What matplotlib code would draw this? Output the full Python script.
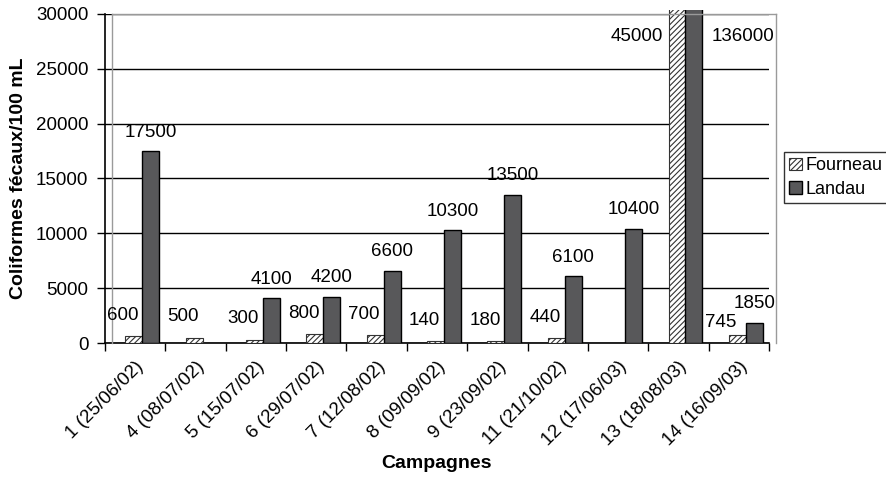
import numpy as np
import matplotlib
matplotlib.use("Agg")
import matplotlib.pyplot as plt
from matplotlib.transforms import Bbox, TransformedBbox

plt.rcParams['font.family'] = ['Liberation Sans', 'DejaVu Sans']
plt.rcParams['hatch.color'] = '#555555'
plt.rcParams['hatch.linewidth'] = 0.8

# --- Data ---
campagnes = ["1 (25/06/02)", "4 (08/07/02)", "5 (15/07/02)", "6 (29/07/02)",
             "7 (12/08/02)", "8 (09/09/02)", "9 (23/09/02)", "11 (21/10/02)",
             "12 (17/06/03)", "13 (18/08/03)", "14 (16/09/03)"]
fourneau = [600, 500, 300, 800, 700, 140, 180, 440, np.nan, 45000, 745]
landau = [17500, np.nan, 4100, 4200, 6600, 10300, 13500, 6100, 10400, 136000, 1850]
y_ticks = [0, 5000, 10000, 15000, 20000, 25000, 30000]
YMAX = 30000

FS = 13.5   # regular text
FSB = 14    # bold axis titles

W, H = 887, 480
fig = plt.figure(figsize=(W / 100, H / 100), dpi=100)

def rect(x0, y0, x1, y1):
    # pixel box (top-left origin) -> figure fraction
    return [x0 / W, 1 - y1 / H, (x1 - x0) / W, (y1 - y0) / H]

# axis / gridline layer (shifted a few pixels left of the plot area, like the original)
ax = fig.add_axes(rect(105, 14, 769, 343))
ax.set_zorder(0)
n = len(campagnes)
x = np.arange(n)
ax.set_xlim(-0.5, n - 0.5)
ax.set_ylim(0, YMAX)
ax.set_yticks(y_ticks)
ax.set_yticklabels([str(v) for v in y_ticks], fontsize=FS)
ax.yaxis.grid(True, color='black', linewidth=1)
ax.set_axisbelow(True)
ax.set_xticks(np.arange(-0.5, n, 1.0))
ax.set_xticklabels([])
ax.set_xticks(x, minor=True)
ax.set_xticklabels(campagnes, minor=True, rotation=45, ha='right', va='top',
                   rotation_mode='anchor', fontsize=FS)
ax.tick_params(axis='x', which='major', length=6, direction='out', width=1)
ax.tick_params(axis='x', which='minor', length=0, pad=11)
ax.tick_params(axis='y', length=6, width=1, pad=6)
for s in ['top', 'right']:
    ax.spines[s].set_visible(False)
for s in ['left', 'bottom']:
    ax.spines[s].set_color('black')
    ax.spines[s].set_linewidth(1.2)
ax.set_ylabel("Coliformes fécaux/100 mL", fontsize=FSB, fontweight='bold', labelpad=6)
ax.set_xlabel("Campagnes", fontsize=FSB, fontweight='bold', labelpad=4)

# bar layer (plot area)
axb = fig.add_axes(rect(112, 14, 776, 343))
axb.set_zorder(1)
axb.patch.set_visible(False)
axb.set_xlim(-0.5, n - 0.5)
axb.set_ylim(0, YMAX)
axb.set_xticks([])
axb.set_yticks([])
axb.spines['bottom'].set_visible(False)
for s in ['top', 'left', 'right']:
    axb.spines[s].set_color('#9a9a9a')
    axb.spines[s].set_linewidth(1)

bw = 0.28
b1 = axb.bar(x - bw / 2, fourneau, bw, color='white', edgecolor='#333333',
             linewidth=0.8, hatch='//////', label='Fourneau')
b2 = axb.bar(x + bw / 2, landau, bw, color='#58585a', edgecolor='black',
             linewidth=1, label='Landau')
clip = TransformedBbox(Bbox([[0, 0], [1, 1.013]]), axb.transAxes)
for p in list(b1) + list(b2):
    p.set_clip_box(clip)

# value labels (last Fourneau label sits lower and further left, as in the original)
for i, (xi, v) in enumerate(zip(x, fourneau)):
    if np.isnan(v):
        continue
    if v > YMAX:
        axb.annotate(f"{v:.0f}", (xi - bw, YMAX), xytext=(-6, -23),
                     textcoords='offset pixels', ha='right', va='center', fontsize=FS)
    else:
        dx, dy = (-17, 12) if i == n - 1 else (-11, 21)
        axb.annotate(f"{v:.0f}", (xi - bw / 2, v), xytext=(dx, dy),
                     textcoords='offset pixels', ha='center', va='center', fontsize=FS)
for xi, v in zip(x, landau):
    if np.isnan(v):
        continue
    if v > YMAX:
        axb.annotate(f"{v:.0f}", (xi + bw, YMAX), xytext=(9, -23),
                     textcoords='offset pixels', ha='left', va='center', fontsize=FS)
    else:
        axb.annotate(f"{v:.0f}", (xi + bw / 2, v), xytext=(0, 19),
                     textcoords='offset pixels', ha='center', va='center', fontsize=FS)

leg = fig.legend(handles=[b1, b2], loc='upper left',
                 bbox_to_anchor=(784 / W, 1 - 152 / H), borderaxespad=0,
                 fontsize=13, frameon=True, fancybox=False, edgecolor='black',
                 handlelength=0.7, handleheight=0.7, handletextpad=0.2,
                 borderpad=0.3, labelspacing=0.35)
leg.get_frame().set_linewidth(1)

fig.savefig("out.png", dpi=100, facecolor='white')
